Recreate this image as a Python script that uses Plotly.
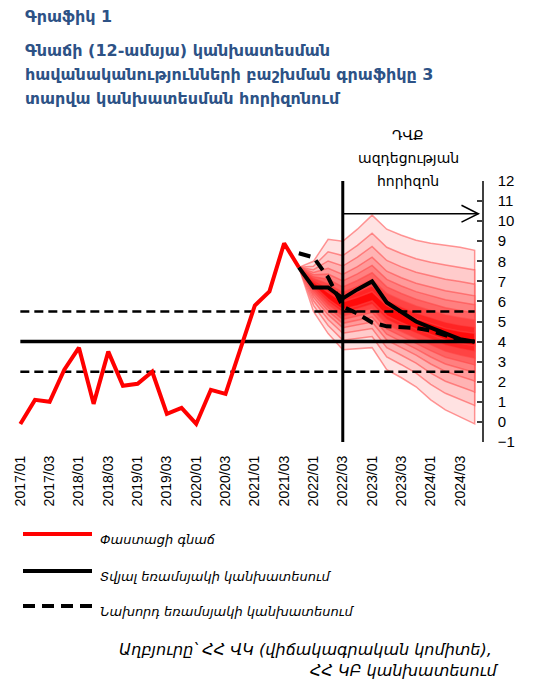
import plotly.graph_objects as go

# ---------------- data ----------------
quarters = [f"{y}/{q:02d}" for y in range(2017, 2025) for q in range(1, 5)]
tick_labels = quarters[::2]

actual = [-0.1, 1.1, 1.0, 2.6, 3.7, 0.9, 3.5, 1.8, 1.9, 2.5,
          0.4, 0.7, -0.1, 1.6, 1.4, 3.6, 5.8, 6.5, 8.9, 7.7]
actual_q = quarters[:len(actual)]

forecast_q = quarters[19:]
current_fc = [7.7, 6.7, 6.7, 6.15, 6.6, 7.0, 5.95, 5.45, 5.0, 4.7, 4.4, 4.12, 4.0]
previous_fc = [8.4, 8.2, 7.2, 5.75, 5.4, 4.95, 4.76, 4.72, 4.68, 4.55, 4.3, 4.08, 4.0]

fan_center = [7.7, 6.9, 6.25, 5.75, 5.95, 6.2, 5.5, 5.15, 4.85, 4.6, 4.35, 4.2, 4.1]
fan_upper = [7.7, 8.0, 9.1, 9.0, 9.6, 10.3, 9.6, 9.3, 9.05, 8.9, 8.8, 8.7, 8.55]
fan_lower = [7.7, 5.5, 4.4, 3.6, 3.65, 3.7, 2.6, 2.2, 1.75, 1.1, 0.6, 0.25, -0.1]
band_fracs = [1.0, 0.78, 0.62, 0.49, 0.39, 0.30, 0.22, 0.14, 0.07]
band_colors = ["#FFE2E2", "#FFCBCB", "#FFB3B3", "#FF9A9A", "#FF8080",
               "#FF6262", "#FF4343", "#FF2424", "#FF0A0A"]

target = 4.0
band_hi = 5.5
band_lo = 2.5
horizon_q = "2022/03"
horizon_arrow_level = 10.37

# ---------------- figure ----------------
ARM = "DejaVu Sans"
NUM = "Liberation Sans"
W, H = 535, 688
ML, MR, MT, MB = 13, 53, 181, 246
PW, PH = W - ML - MR, H - MT - MB


def px(x):
    return (x - ML) / PW


def py(y):
    return (H - MB - y) / PH


fig = go.Figure()

# fan
for frac, col in zip(band_fracs, band_colors):
    up = [c + frac * (u - c) for c, u in zip(fan_center, fan_upper)]
    lo = [c - frac * (c - l) for c, l in zip(fan_center, fan_lower)]
    fig.add_trace(go.Scatter(
        x=forecast_q + forecast_q[::-1], y=up + lo[::-1],
        fill="toself", fillcolor=col, mode="lines",
        line=dict(color="rgba(255,70,70,0.55)", width=1.5),
        hoverinfo="skip", showlegend=False))

# target lines
fig.add_trace(go.Scatter(x=quarters, y=[band_hi] * len(quarters), mode="lines",
                         line=dict(color="black", width=2.5, dash="9px,5px"),
                         showlegend=False))
fig.add_trace(go.Scatter(x=quarters, y=[band_lo] * len(quarters), mode="lines",
                         line=dict(color="black", width=2.5, dash="9px,5px"),
                         showlegend=False))
fig.add_trace(go.Scatter(x=quarters, y=[target] * len(quarters), mode="lines",
                         line=dict(color="black", width=3.5),
                         showlegend=False))

# series
fig.add_trace(go.Scatter(x=forecast_q, y=previous_fc, mode="lines",
                         line=dict(color="black", width=4, dash="12px,7px"),
                         showlegend=False))
fig.add_trace(go.Scatter(x=forecast_q, y=current_fc, mode="lines",
                         line=dict(color="black", width=4),
                         showlegend=False))
fig.add_trace(go.Scatter(x=actual_q, y=actual, mode="lines",
                         line=dict(color="#FF0000", width=4),
                         showlegend=False))

hx = quarters.index(horizon_q)
shapes = [
    dict(type="line", xref="x", yref="paper", x0=hx, x1=hx, y0=0, y1=1,
         line=dict(color="black", width=3)),
    dict(type="line", xref="x", yref="y", x0=hx, x1=31.25,
         y0=horizon_arrow_level, y1=horizon_arrow_level,
         line=dict(color="black", width=1.5)),
    dict(type="path", xref="x", yref="y",
         path=f"M 30.1 {horizon_arrow_level + 0.42} L 31.25 {horizon_arrow_level} "
              f"L 30.1 {horizon_arrow_level - 0.42}",
         line=dict(color="black", width=1.5)),
]

# legend samples
leg_y = [534, 571, 606]
shapes.append(dict(type="line", xref="paper", yref="paper", x0=px(23), x1=px(92),
                   y0=py(leg_y[0]), y1=py(leg_y[0]), line=dict(color="#FF0000", width=4)))
shapes.append(dict(type="line", xref="paper", yref="paper", x0=px(23), x1=px(92),
                   y0=py(leg_y[1]), y1=py(leg_y[1]), line=dict(color="black", width=4)))
shapes.append(dict(type="line", xref="paper", yref="paper", x0=px(23), x1=px(92),
                   y0=py(leg_y[2]), y1=py(leg_y[2]),
                   line=dict(color="black", width=4, dash="12px,7px")))

ann = []
TITLE_C = "#2D5286"
ann.append(dict(text="<b>Գրաֆիկ 1</b>", x=px(23), y=py(16), xref="paper", yref="paper",
                xanchor="left", yanchor="middle", showarrow=False,
                font=dict(family=ARM, size=16, color=TITLE_C)))
title_lines = ["Գնաճի (12-ամսյա) կանխատեսման",
               "հավանականությունների բաշխման գրաֆիկը 3",
               "տարվա կանխատեսման հորիզոնում"]
for i, t in enumerate(title_lines):
    ann.append(dict(text=f"<b>{t}</b>", x=px(23), y=py(50 + 24 * i), xref="paper",
                    yref="paper", xanchor="left", yanchor="middle", showarrow=False,
                    font=dict(family=ARM, size=16, color=TITLE_C)))

for i, t in enumerate(["ԴՎՔ", "ազդեցության", "հորիզոն"]):
    ann.append(dict(text=t, x=px(408), y=py(135 + 23 * i), xref="paper", yref="paper",
                    xanchor="center", yanchor="middle", showarrow=False,
                    font=dict(family=ARM, size=14, color="black")))

leg_txt = ["Փաստացի գնաճ", "Տվյալ եռամսյակի կանխատեսում", "Նախորդ եռամսյակի կանխատեսում"]
for yy, t in zip(leg_y, leg_txt):
    ann.append(dict(text=f"<i>{t}</i>", x=px(98), y=py(yy + 5), xref="paper", yref="paper",
                    xanchor="left", yanchor="middle", showarrow=False,
                    font=dict(family=ARM, size=13, color="black")))

ann.append(dict(text="<i>Աղբյուրը՝ ՀՀ ՎԿ (վիճակագրական կոմիտե),</i>", x=px(494), y=py(649),
                xref="paper", yref="paper", xanchor="right", yanchor="middle",
                showarrow=False, font=dict(family=ARM, size=16, color="black")))
ann.append(dict(text="<i>ՀՀ ԿԲ կանխատեսում</i>", x=px(501), y=py(670),
                xref="paper", yref="paper", xanchor="right", yanchor="middle",
                showarrow=False, font=dict(family=ARM, size=16, color="black")))

fig.update_layout(
    width=W, height=H, margin=dict(l=ML, r=MR, t=MT, b=MB),
    plot_bgcolor="white", paper_bgcolor="white",
    shapes=shapes, annotations=ann, showlegend=False,
    xaxis=dict(type="category", categoryorder="array", categoryarray=quarters,
               range=[-0.5, len(quarters) - 0.5],
               tickmode="array", tickvals=tick_labels, ticktext=tick_labels,
               tickangle=-90, showgrid=False, zeroline=False, showline=False,
               ticks="", ticklabelstandoff=10,
               tickfont=dict(family=NUM, size=14, color="black")),
    yaxis=dict(side="right", range=[-1, 12], dtick=1, tick0=0,
               showgrid=False, zeroline=False, showline=True,
               linecolor="#404040", linewidth=1.5, ticks="inside", ticklen=5,
               tickcolor="#404040", tickwidth=1.5, ticklabelstandoff=11,
               tickfont=dict(family=NUM, size=15, color="black")),
)

fig.write_html("out.html", config={"displayModeBar": False},
               post_script="document.body.style.margin='0';document.body.style.overflow='hidden';")
